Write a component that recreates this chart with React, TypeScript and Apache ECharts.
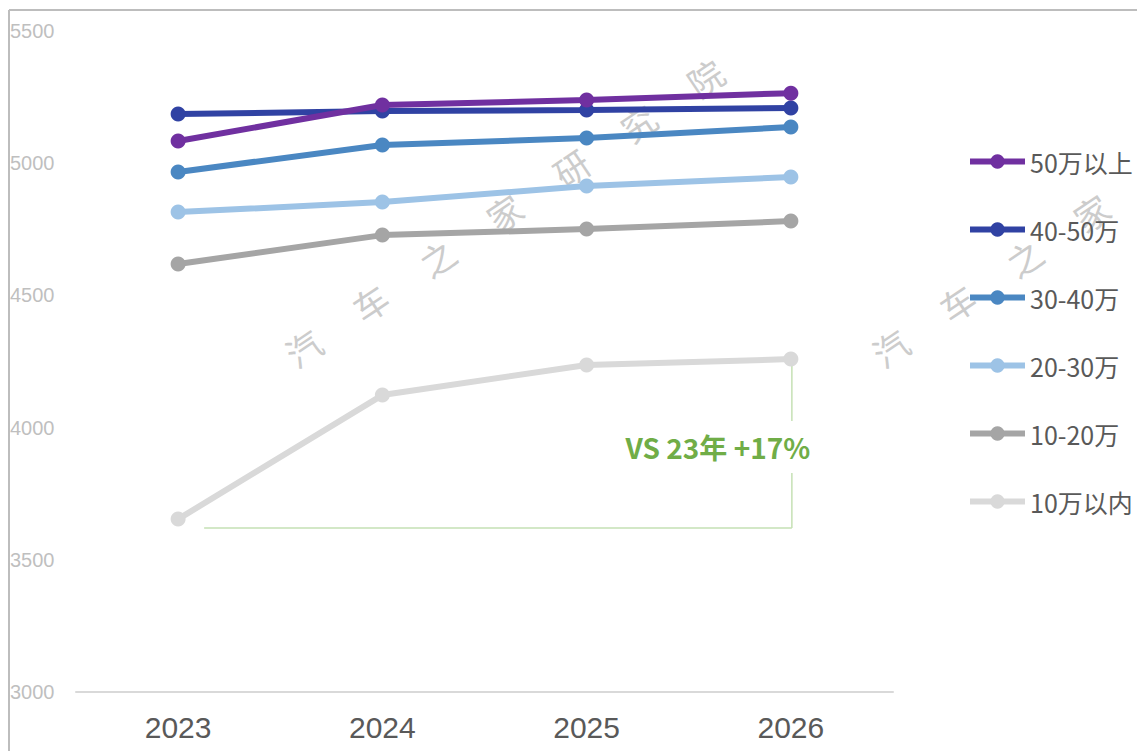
import React, { useEffect, useRef } from "react";
import * as echarts from "echarts";

const years = ["2023", "2024", "2025", "2026"];
const seriesNames = ["50万以上", "40-50万", "30-40万", "20-30万", "10-20万", "10万以内"];
const s50plus = [5084, 5220, 5239, 5265];
const s40to50 = [5186, 5197, 5201, 5209];
const s30to40 = [4967, 5069, 5095, 5137];
const s20to30 = [4815, 4853, 4914, 4948];
const s10to20 = [4619, 4728, 4751, 4781];
const s10below = [3654, 4123, 4237, 4259];
const seriesValues = [s50plus, s40to50, s30to40, s20to30, s10to20, s10below];
const seriesColors = ["#7030A0", "#3042A3", "#4A87C2", "#9DC3E6", "#A5A5A5", "#D9D9D9"];
const yTicks = { min: 3000, max: 5500, interval: 500 };
const annotationText = "VS 23年 +17%";
const bracketBaseValue = 3620;
const watermarkChars = ["汽", "车", "之", "家", "研", "究", "院"];

export default function App() {
  const ref = useRef<HTMLDivElement>(null);
  useEffect(() => {
    const chart = echarts.init(ref.current!, undefined, { renderer: "svg" });
    const option: any = {
      animation: false,
      backgroundColor: "#ffffff",
      grid: { left: 76, right: 244, top: 31, bottom: 59, containLabel: false },
      xAxis: {
        type: "category",
        data: years,
        boundaryGap: true,
        axisLine: { lineStyle: { color: "#d9d9d9", width: 2 } },
        axisTick: { show: false },
        axisLabel: { fontSize: 30, color: "#595959", margin: 20, fontFamily: "Liberation Sans, Arial, sans-serif" },
        splitLine: { show: false },
      },
      yAxis: {
        type: "value",
        min: yTicks.min,
        max: yTicks.max,
        interval: yTicks.interval,
        axisLine: { show: false },
        axisTick: { show: false },
        splitLine: { show: false },
        axisLabel: {
          fontSize: 20,
          color: "#bfbfbf",
          align: "left",
          margin: 66,
          formatter: (v: number) => String(v),
          fontFamily: "Liberation Sans, Arial, sans-serif",
        },
      },
      legend: {
        orient: "vertical",
        left: 967,
        top: 149,
        padding: 0,
        itemWidth: 55,
        itemHeight: 18,
        itemGap: 43,
        data: seriesNames,
        lineStyle: { width: 6 },
        textStyle: {
          fontSize: 25,
          lineHeight: 25,
          color: "#595959",
          fontFamily: "Noto Sans CJK SC, sans-serif",
        },
      },
      series: seriesNames.map((name, i) => ({
        name,
        type: "line",
        data: seriesValues[i],
        symbol: "circle",
        symbolSize: 15,
        lineStyle: { width: 6, color: seriesColors[i] },
        itemStyle: { color: seriesColors[i] },
        z: 10 - i,
      })),
    };
    chart.setOption(option);

    const p = (idx: number, v: number) => chart.convertToPixel({ xAxisIndex: 0, yAxisIndex: 0 }, [idx, v]) as number[];
    const last = years.length - 1;
    const start = p(0, bracketBaseValue);
    const end = p(last, bracketBaseValue);
    const top = p(last, s10below[last]);
    const green = "#C5E0B4";
    const textCenterY = top[1] + 88;
    const gapHalf = 26;

    const graphics: any[] = [
      { type: "line", shape: { x1: 9, y1: 10, x2: 1137, y2: 10 }, style: { stroke: "#bdbdbd", lineWidth: 2 }, z: 1 },
      { type: "line", shape: { x1: 9, y1: 10, x2: 9, y2: 751 }, style: { stroke: "#bdbdbd", lineWidth: 2 }, z: 1 },
      { type: "line", shape: { x1: start[0] + 26, y1: start[1], x2: end[0] + 1, y2: end[1] }, style: { stroke: green, lineWidth: 1.5 }, z: 1 },
      { type: "line", shape: { x1: end[0] + 1, y1: end[1], x2: end[0] + 1, y2: textCenterY + gapHalf }, style: { stroke: green, lineWidth: 1.5 }, z: 1 },
      { type: "line", shape: { x1: top[0] + 1, y1: top[1], x2: top[0] + 1, y2: textCenterY - gapHalf }, style: { stroke: green, lineWidth: 1.5 }, z: 1 },
      {
        type: "text",
        x: top[0] - 73,
        y: textCenterY,
        style: {
          text: annotationText,
          fill: "#70AD47",
          fontSize: 28,
          fontWeight: "bold",
          fontFamily: "Noto Sans CJK SC, sans-serif",
          align: "center",
          verticalAlign: "middle",
        },
        z: 20,
      },
    ];

    const rot = Math.atan2(45, 67);
    const groups = [
      { x: 303, y: 347, count: 7 },
      { x: 890, y: 347, count: 5 },
    ];
    groups.forEach((g) => {
      watermarkChars.slice(0, g.count).forEach((ch, k) => {
        graphics.push({
          type: "text",
          x: g.x + k * 67,
          y: g.y - k * 45,
          rotation: rot,
          style: {
            text: ch,
            fill: "#cccccc",
            fontSize: 35,
            fontFamily: "Noto Sans CJK SC, sans-serif",
            align: "center",
            verticalAlign: "middle",
          },
          z: 0,
        });
      });
    });

    chart.setOption({ graphic: graphics });
    return () => chart.dispose();
  }, []);
  return (
    <div
      ref={ref}
      style={{ position: "fixed", left: 0, top: 0, width: 1137, height: 751 }}
    />
  );
}
